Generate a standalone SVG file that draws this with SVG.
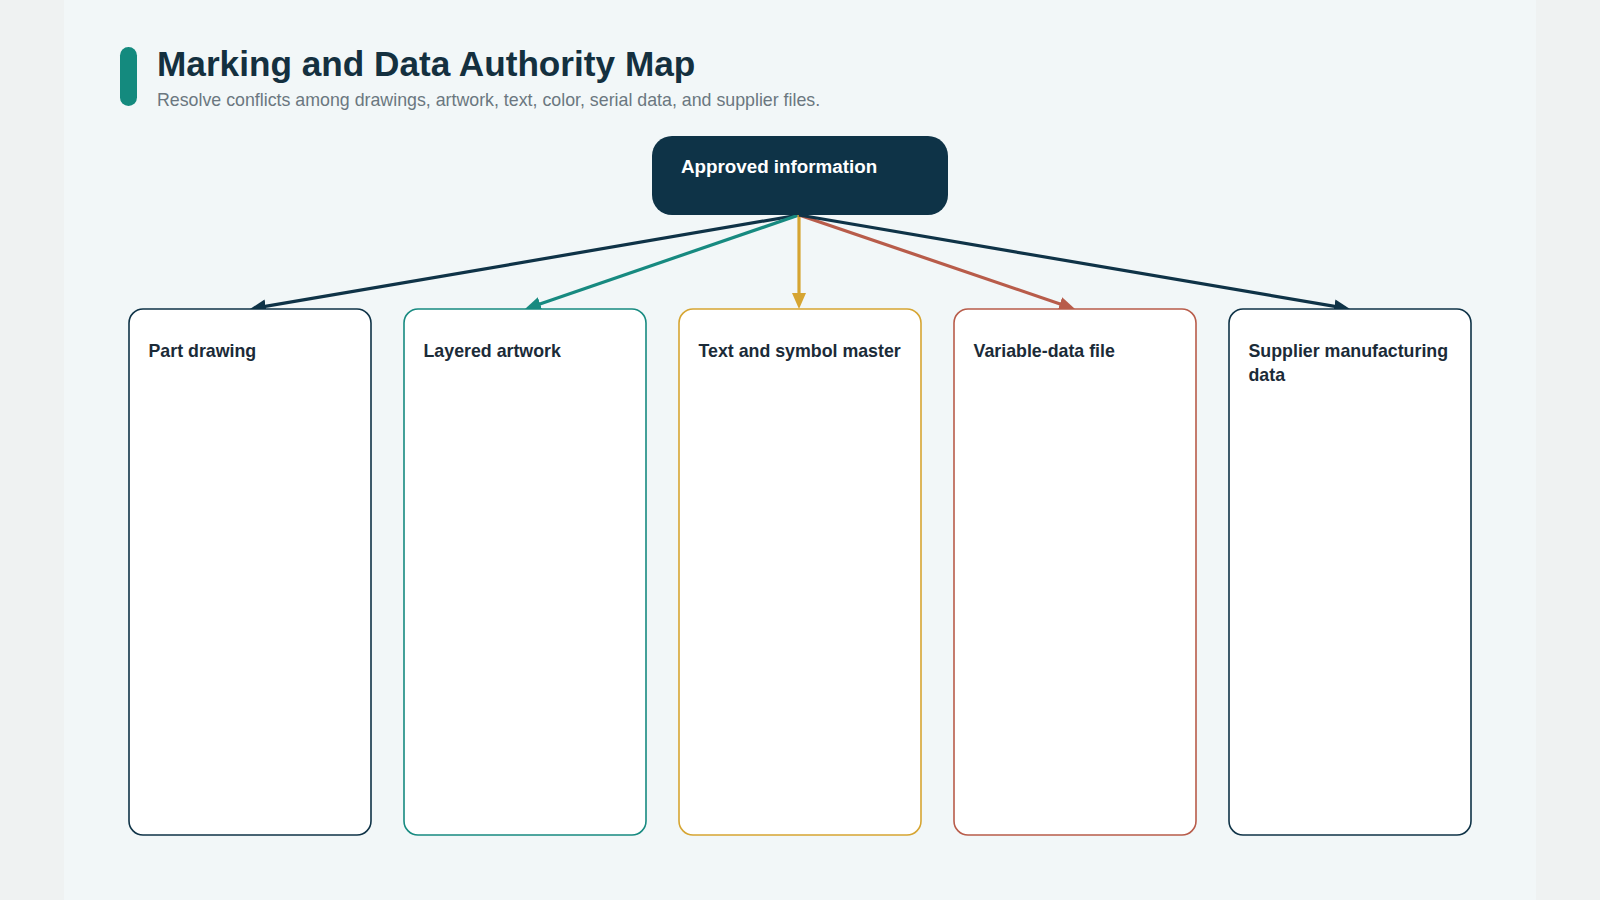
<svg xmlns="http://www.w3.org/2000/svg" width="1600" height="900" viewBox="0 0 1600 900">
  <style>
    .title { font-family: "Liberation Sans", Arial, sans-serif; font-weight: bold; font-size: 35.2px; fill: #14303f; }
    .subtitle { font-family: "Liberation Sans", Arial, sans-serif; font-size: 17.8px; fill: #6b7780; }
    .root-label { font-family: "Liberation Sans", Arial, sans-serif; font-weight: bold; font-size: 18.8px; fill: #ffffff; }
    .label { font-family: "Liberation Sans", Arial, sans-serif; font-weight: bold; font-size: 17.8px; fill: #1b2b38; }
    .card { fill: #ffffff; stroke-width: 1.6; }
    .edge { fill: none; stroke-width: 3.2; }
  </style>
  <defs>
    <marker id="ah-dark" viewBox="0 0 16 14" refX="11" refY="7" markerWidth="16" markerHeight="14" markerUnits="userSpaceOnUse" orient="auto">
      <path d="M0,0 L16,7 L0,14 z" fill="#0f3347"/>
    </marker>
    <marker id="ah-teal" viewBox="0 0 16 14" refX="11" refY="7" markerWidth="16" markerHeight="14" markerUnits="userSpaceOnUse" orient="auto">
      <path d="M0,0 L16,7 L0,14 z" fill="#178a80"/>
    </marker>
    <marker id="ah-gold" viewBox="0 0 16 14" refX="11" refY="7" markerWidth="16" markerHeight="14" markerUnits="userSpaceOnUse" orient="auto">
      <path d="M0,0 L16,7 L0,14 z" fill="#d6a532"/>
    </marker>
    <marker id="ah-red" viewBox="0 0 16 14" refX="11" refY="7" markerWidth="16" markerHeight="14" markerUnits="userSpaceOnUse" orient="auto">
      <path d="M0,0 L16,7 L0,14 z" fill="#b85c4a"/>
    </marker>
  </defs>

  <rect x="0" y="0" width="1600" height="900" fill="#eff2f2"/>
  <rect x="64" y="0" width="1472" height="900" fill="#f2f7f8"/>

  <g id="header">
    <rect x="120" y="47" width="17" height="59" rx="8.5" fill="#148a7e"/>
    <text class="title" x="157" y="76">Marking and Data Authority Map</text>
    <text class="subtitle" x="157" y="106">Resolve conflicts among drawings, artwork, text, color, serial data, and supplier files.</text>
  </g>

  <g id="connectors">
    <line class="edge" x1="799" y1="215" x2="254.9" y2="308.2" stroke="#0f3347" marker-end="url(#ah-dark)"/>
    <line class="edge" x1="799" y1="215" x2="529.7" y2="307.4" stroke="#178a80" marker-end="url(#ah-teal)"/>
    <line class="edge" x1="799" y1="215" x2="799" y2="304" stroke="#d6a532" marker-end="url(#ah-gold)"/>
    <line class="edge" x1="799" y1="215" x2="1070.3" y2="307.4" stroke="#b85c4a" marker-end="url(#ah-red)"/>
    <line class="edge" x1="799" y1="215" x2="1345.1" y2="308.2" stroke="#0f3347" marker-end="url(#ah-dark)"/>
  </g>

  <g id="node-approved">
    <rect x="652" y="136" width="296" height="79" rx="20" fill="#0e3347"/>
    <text class="root-label" x="681" y="173">Approved information</text>
  </g>

  <g id="node-part-drawing">
    <rect class="card" x="129" y="309" width="242" height="526" rx="14" stroke="#0f3347"/>
    <text class="label" x="148.5" y="357">Part drawing</text>
  </g>

  <g id="node-layered-artwork">
    <rect class="card" x="404" y="309" width="242" height="526" rx="14" stroke="#178a80"/>
    <text class="label" x="423.5" y="357">Layered artwork</text>
  </g>

  <g id="node-text-symbol">
    <rect class="card" x="679" y="309" width="242" height="526" rx="14" stroke="#d6a532"/>
    <text class="label" x="698.5" y="357">Text and symbol master</text>
  </g>

  <g id="node-variable-data">
    <rect class="card" x="954" y="309" width="242" height="526" rx="14" stroke="#b85c4a"/>
    <text class="label" x="973.5" y="357">Variable-data file</text>
  </g>

  <g id="node-supplier">
    <rect class="card" x="1229" y="309" width="242" height="526" rx="14" stroke="#0f3347"/>
    <text class="label" x="1248.5" y="357">Supplier manufacturing</text>
    <text class="label" x="1248.5" y="381">data</text>
  </g>
</svg>
